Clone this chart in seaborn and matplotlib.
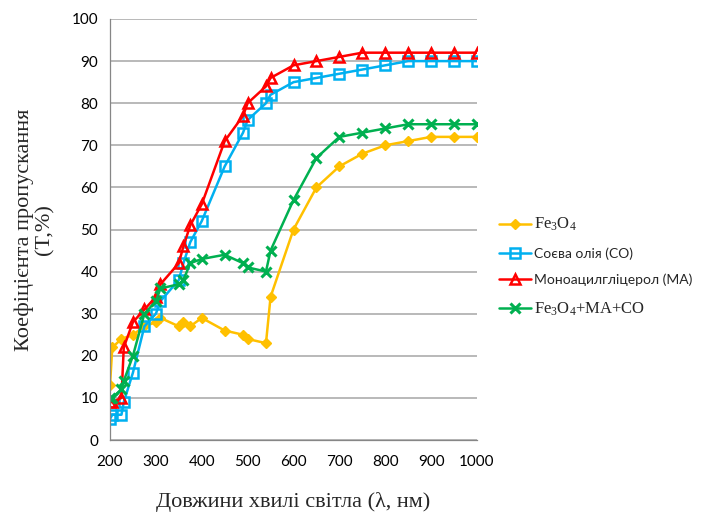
import numpy as np
import pandas as pd
import matplotlib
matplotlib.use("Agg")
import matplotlib.pyplot as plt
import seaborn as sns

# ---- data ----
x_fe = [200, 205, 225, 250, 275, 300, 310, 350, 360, 375, 400, 450, 490, 500, 540, 550,
        600, 650, 700, 750, 800, 850, 900, 950, 1000]
y_fe = [13, 22, 24, 25, 27, 28, 29, 27, 28, 27, 29, 26, 25, 24, 23, 34,
        50, 60, 65, 68, 70, 71, 72, 72, 72]

x_co = [200, 205, 225, 230, 250, 275, 300, 310, 350, 360, 375, 400, 450, 490, 500, 540, 550,
        600, 650, 700, 750, 800, 850, 900, 950, 1000]
y_co = [5, 6, 6, 9, 16, 27, 30, 33, 38, 42, 47, 52, 65, 73, 76, 80, 82,
        85, 86, 87, 88, 89, 90, 90, 90, 90]

x_ma = [200, 205, 225, 230, 250, 275, 300, 310, 350, 360, 375, 400, 450, 490, 500, 540, 550,
        600, 650, 700, 750, 800, 850, 900, 950, 1000]
y_ma = [9, 9, 10, 22, 28, 31, 34, 37, 42, 46, 51, 56, 71, 77, 80, 84, 86,
        89, 90, 91, 92, 92, 92, 92, 92, 92]

x_mix = [200, 205, 225, 230, 250, 275, 300, 310, 350, 360, 375, 400, 450, 490, 500, 540, 550,
         600, 650, 700, 750, 800, 850, 900, 950, 1000]
y_mix = [10, 10, 12, 14, 20, 30, 33, 36, 37, 38, 42, 43, 44, 42, 41, 40, 45,
         57, 67, 72, 73, 74, 75, 75, 75, 75]

labels = ["Fe$_3$O$_4$", "Соєва олія (СО)", "Моноацилгліцерол (МА)", "Fe$_3$O$_4$+МА+СО"]
x_ticks = [200, 300, 400, 500, 600, 700, 800, 900, 1000]
y_ticks = [0, 10, 20, 30, 40, 50, 60, 70, 80, 90, 100]

sns.set_style("white")
plt.rcParams['font.family'] = ['Lato', 'DejaVu Sans']
plt.rcParams['mathtext.fontset'] = 'custom'
plt.rcParams['mathtext.rm'] = 'Liberation Serif'
plt.rcParams['mathtext.it'] = 'Liberation Serif:italic'

fig = plt.figure(figsize=(7.01, 5.13), dpi=100)
ax = fig.add_axes([110/701, 1 - 440/513, (477-110)/701, (440-19)/513])

styles = [
    dict(color="#FFC000", marker="D", markersize=5, markerfacecolor="#FFC000",
         markeredgecolor="#FFC000", markeredgewidth=1),
    dict(color="#00B0F0", marker="s", markersize=7, markerfacecolor="none",
         markeredgecolor="#00B0F0", markeredgewidth=1.8),
    dict(color="#FF0000", marker="^", markersize=7.5, markerfacecolor="none",
         markeredgecolor="#FF0000", markeredgewidth=1.8),
    dict(color="#00B050", marker="x", markersize=7, markeredgecolor="#00B050",
         markeredgewidth=2.2),
]
series = [(x_fe, y_fe), (x_co, y_co), (x_ma, y_ma), (x_mix, y_mix)]
for (xs, ys), lab, st in zip(series, labels, styles):
    df = pd.DataFrame({"x": xs, "y": ys})
    sns.lineplot(data=df, x="x", y="y", ax=ax, linewidth=1.8, sort=False,
                 estimator=None, label=lab, **st)

ax.set_xlim(200, 1000)
ax.set_ylim(0, 100)
ax.set_xticks(x_ticks)
ax.set_yticks(y_ticks)
ax.set_xticks(np.arange(200, 1001, 50), minor=True)
ax.set_yticks(np.arange(0, 101, 2), minor=True)
ax.tick_params(axis="both", which="both", direction="out", color="#868686", labelsize=11,
               labelcolor="#000000")
ax.tick_params(axis="both", which="major", length=5, width=0.8)
ax.tick_params(axis="both", which="minor", length=3, width=0.8)
ax.tick_params(axis="x", pad=6)
ax.yaxis.grid(True, which="major", color="#A6A6A6", linewidth=1.1)
ax.xaxis.grid(False)
for s in ["top", "right"]:
    ax.spines[s].set_visible(False)
for s in ["left", "bottom"]:
    ax.spines[s].set_color("#868686")
    ax.spines[s].set_linewidth(0.9)

ax.set_xlabel("Довжини хвилі світла (λ, нм)", fontfamily="Liberation Serif", fontsize=16,
              labelpad=16)
ax.set_ylabel("Коефіцієнта пропускання\n(T,%)", fontfamily="Liberation Serif", fontsize=16,
              labelpad=12, linespacing=1.1)

leg = ax.legend(loc="upper left", bbox_to_anchor=(499/701, 1 - 216/513),
                bbox_transform=fig.transFigure, frameon=False, fontsize=10,
                handlelength=2.3, labelspacing=1.0, handletextpad=0.25,
                borderpad=0, borderaxespad=0)
for t in leg.get_texts():
    if "Fe" in t.get_text():
        t.set_fontfamily("Liberation Serif")
        t.set_fontsize(12)

fig.savefig("out.png", dpi=100)
